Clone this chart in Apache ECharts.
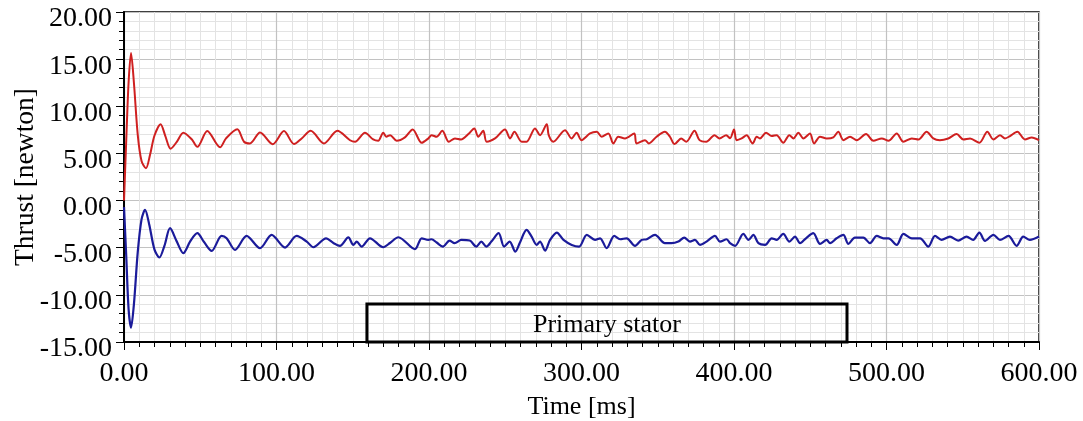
<!DOCTYPE html>
<html>
<head>
<meta charset="utf-8">
<script src="https://cdn.jsdelivr.net/npm/echarts@6/dist/echarts.min.js"></script>
<style>html,body{margin:0;padding:0;background:#fff;}#c{width:1083px;height:421px;}</style>
</head>
<body>
<div id="c"></div>
<script>
const yTicks = [-15, -10, -5, 0, 5, 10, 15, 20];
const xTicks = [0, 100, 200, 300, 400, 500, 600];

const redTime = [0, 1.5, 3, 4.6, 6.5, 9, 11.5, 14.4, 17, 20, 24, 27, 30.6, 34.5, 38.9, 44.4, 48.1, 54.6, 63, 66.9, 74.3, 78.7, 82.6, 89.2, 97.5, 104.9, 111.5, 116.5, 122.4, 131.1, 139.9, 148.2, 151.5, 158, 163.4, 166.7, 170, 172, 174.5, 178.8, 184.2, 189.3, 195.2, 199.6,
  201.7, 205, 208.7, 213, 217, 221, 225.8, 229.7, 232.3, 235.6, 237.8, 243.3, 249.8, 253.2, 256, 260.8, 264, 269.5, 272.8, 277.2, 278.5, 281.5, 289.2, 293.5, 296.8, 300, 305.6, 310, 313.2, 317.6, 320.9, 324.1, 328.5, 334.6, 336.1, 341.6, 344.2, 349.2, 354.7, 358, 361, 365.4, 368.7, 374.1, 377.4, 381.8, 387.2, 390.5, 394.9, 397.4,
  400, 401.7, 405, 408.3, 412.2, 414.9, 417, 421, 424.7, 428, 432.3, 436.3, 439, 442.2, 445.5, 449.8, 452.5, 456.4, 460.8, 465.1, 468.4, 471.7, 476.1, 480.5, 486.6, 491.4, 496.9, 501.3, 506.7, 511.1, 516.6, 521, 526.3, 530.7, 535, 540.5, 546, 550.4, 554.8, 560.9, 566.1, 570.1, 574.4, 577.7, 581, 585.8, 590.8, 595.2, 600];
const redThrust = [0, 6.5, 12.5, 15.65, 12.5, 7, 4.2, 3.42, 4.8, 6.9, 8.1, 6.9, 5.5, 6.2, 7.2, 6.5, 5.7, 7.38, 5.65, 6.6, 7.56, 6.24, 6.06, 7.22, 5.97, 7.37, 5.99, 6.59, 7.4, 6.06, 7.4, 6.4, 6.24, 7.19, 6.48, 6.34, 7.19, 6.77, 6.94, 6.34, 6.7, 7.54, 6.13, 6.6,
  6.94, 6.77, 7.4, 6.24, 6.59, 6.48, 7.05, 7.65, 6.77, 7.4, 6.24, 6.59, 7.54, 6.59, 7.3, 6.24, 6.24, 7.65, 6.94, 8.1, 6.94, 6.24, 7.47, 6.59, 7.19, 6.41, 7.12, 7.3, 6.77, 7.12, 6.06, 6.77, 6.59, 7.12, 6.06, 6.41, 6.06, 6.77, 7.3, 6.77, 5.99, 6.59, 6.24, 7.4, 6.41, 6.24, 6.94, 6.59, 6.94, 6.6,
  7.54, 6.41, 6.59, 6.94, 6.06, 6.77, 6.59, 7.19, 6.84, 6.94, 6.13, 6.94, 6.59, 7.19, 6.59, 7.12, 6.06, 6.77, 6.59, 6.7, 7.3, 6.41, 6.77, 6.41, 7.05, 6.34, 6.59, 6.34, 7.12, 6.24, 6.59, 6.48, 7.3, 6.59, 6.41, 6.59, 7.05, 6.48, 6.59, 6.13, 7.3, 6.48, 6.94, 6.59, 6.84, 7.3, 6.48, 6.7, 6.41];

const blueTime = [0, 1.5, 3, 4.6, 6.5, 9, 11.5, 13.8, 16.5, 20, 23.2, 26.5, 30.2, 34.5, 38.9, 43.5, 48.1, 52.5, 57.5, 64, 67.3, 72.8, 80.4, 89.2, 96.8, 105.6, 113.2, 119.8, 124.2, 132.5, 137.3, 141.6, 147.1, 150.4, 152.6, 155.8, 161.3, 170, 174.4, 179.9, 190.8, 195.2, 199.6,
  201.7, 205, 209.1, 213.5, 216.8, 221.2, 226.7, 231, 234.3, 237.6, 240.9, 245.7, 249.2, 252.9, 256.6, 259.5, 264, 267.3, 270.6, 272.8, 276.1, 279.4, 283.8, 288.2, 293.6, 298.4, 303.5, 308.9, 312.2, 316.5, 321.5, 325.3, 329.6, 335.1, 339.5, 342.8, 348.2, 354.7, 359, 363.5, 367.4, 371.1, 374.4, 377.7, 382, 387.5, 390.8, 395.2, 397.4,
  400.7, 406.1, 409.5, 412.7, 416, 420.4, 424.7, 428, 432.3, 436.3, 440, 443.3, 447.2, 452, 456.4, 460.8, 463, 467.3, 471.7, 475, 479.3, 484.8, 489.2, 493.6, 498, 501.3, 506.7, 511.1, 516.6, 522, 527.4, 531.8, 536.1, 541.6, 547, 552.5, 556.8, 560.9, 564.6, 570.1, 574.4, 580, 585.3, 589.7, 594, 600];
const blueThrust = [-0.7, -6, -11.5, -13.48, -11, -5.5, -2, -0.99, -2.5, -5.2, -6.04, -4.8, -2.93, -4.3, -5.58, -4.3, -3.46, -4.4, -5.34, -3.75, -4.0, -5.23, -3.75, -5.05, -3.64, -4.98, -3.75, -4.35, -4.95, -4.0, -4.5, -4.8, -3.9, -4.7, -4.35, -4.88, -4.0, -4.95, -4.5, -3.89, -5.16, -4.0, -4.17,
  -4.1, -4.45, -4.88, -4.24, -4.52, -4.17, -4.24, -4.88, -4.35, -4.88, -4.35, -3.46, -4.88, -4.35, -5.41, -4.5, -3.11, -3.82, -4.7, -4.35, -5.3, -4.17, -3.39, -4.17, -4.7, -4.88, -3.64, -4.17, -4.0, -5.05, -3.75, -4.1, -4.0, -4.8, -4.17, -4.1, -3.64, -4.52, -4.52, -4.35, -3.92, -4.35, -4.17, -4.7, -4.35, -3.75, -4.35, -4.1, -4.52,
  -4.8, -3.53, -4.17, -3.64, -4.52, -4.7, -4.0, -4.17, -3.53, -4.35, -3.82, -4.52, -4.0, -3.46, -4.59, -4.17, -4.52, -4.0, -3.64, -4.59, -3.92, -3.92, -4.52, -3.75, -4.0, -4.0, -4.7, -3.53, -4.0, -4.0, -4.88, -3.75, -4.17, -3.82, -4.24, -3.82, -4.17, -3.39, -4.28, -3.64, -4.17, -3.75, -4.8, -3.82, -4.17, -3.82];

const boxLabel = 'Primary stator';
const boxX = [159.3, 474.1];
const boxY = [-10.96, -15];

const FONT = 'Liberation Serif';
const chart = echarts.init(document.getElementById('c'), null, {renderer: 'canvas'});
const fmt = v => v.toFixed(2);

chart.setOption({
  animation: false,
  backgroundColor: '#fff',
  grid: {left: 124, right: 44, top: 12, bottom: 79, show: true, borderColor: '#000', borderWidth: 1.5, backgroundColor: 'transparent', containLabel: false, outerBoundsMode: 'none'},
  xAxis: {
    type: 'value', min: xTicks[0], max: xTicks[xTicks.length - 1], interval: 100,
    name: 'Time [ms]', nameLocation: 'middle', nameGap: 52, nameMoveOverlap: false,
    nameTextStyle: {fontFamily: FONT, fontSize: 26, color: '#000'},
    axisLine: {show: true, onZero: false, lineStyle: {color: '#000', width: 2}},
    axisTick: {show: true, length: 8, lineStyle: {color: '#000', width: 1}},
    minorTick: {show: true, splitNumber: 10, length: 5, lineStyle: {color: '#000', width: 1}},
    axisLabel: {formatter: fmt, fontFamily: FONT, fontSize: 28, color: '#000', margin: 18},
    splitLine: {show: true, lineStyle: {color: '#c2c2c2', width: 1.2}},
    minorSplitLine: {show: true, lineStyle: {color: '#e3e3e3', width: 1}}
  },
  yAxis: {
    type: 'value', min: yTicks[0], max: yTicks[yTicks.length - 1], interval: 5,
    name: 'Thrust [newton]', nameLocation: 'middle', nameGap: 84, nameMoveOverlap: false,
    nameTextStyle: {fontFamily: FONT, fontSize: 27.5, color: '#000'},
    axisLine: {show: true, onZero: false, lineStyle: {color: '#000', width: 2}},
    axisTick: {show: true, length: 8, lineStyle: {color: '#000', width: 1}},
    minorTick: {show: true, splitNumber: 5, length: 5, lineStyle: {color: '#000', width: 1}},
    axisLabel: {formatter: fmt, fontFamily: FONT, fontSize: 28, color: '#000', margin: 12, verticalAlign: 'top', lineHeight: 14},
    splitLine: {show: true, lineStyle: {color: '#c2c2c2', width: 1.2}},
    minorSplitLine: {show: true, lineStyle: {color: '#e3e3e3', width: 1}}
  },
  series: [
    {
      type: 'line', name: 'red', showSymbol: false, smooth: 0.3,
      data: redTime.map((t, i) => [t, redThrust[i]]),
      lineStyle: {color: '#cf2020', width: 2}, itemStyle: {color: '#cf2020'}
    },
    {
      type: 'line', name: 'blue', showSymbol: false, smooth: 0.3,
      data: blueTime.map((t, i) => [t, blueThrust[i]]),
      lineStyle: {color: '#1b1b9a', width: 2.2}, itemStyle: {color: '#1b1b9a'},
      markArea: {
        silent: true,
        itemStyle: {color: 'rgba(255,255,255,0)', borderColor: '#000', borderWidth: 3},
        label: {show: true, position: 'inside', formatter: boxLabel, fontFamily: FONT, fontSize: 26, color: '#000', offset: [0, 2]},
        data: [[{xAxis: boxX[0], yAxis: boxY[0]}, {xAxis: boxX[1], yAxis: boxY[1]}]]
      }
    }
  ]
});
</script>
</body>
</html>
